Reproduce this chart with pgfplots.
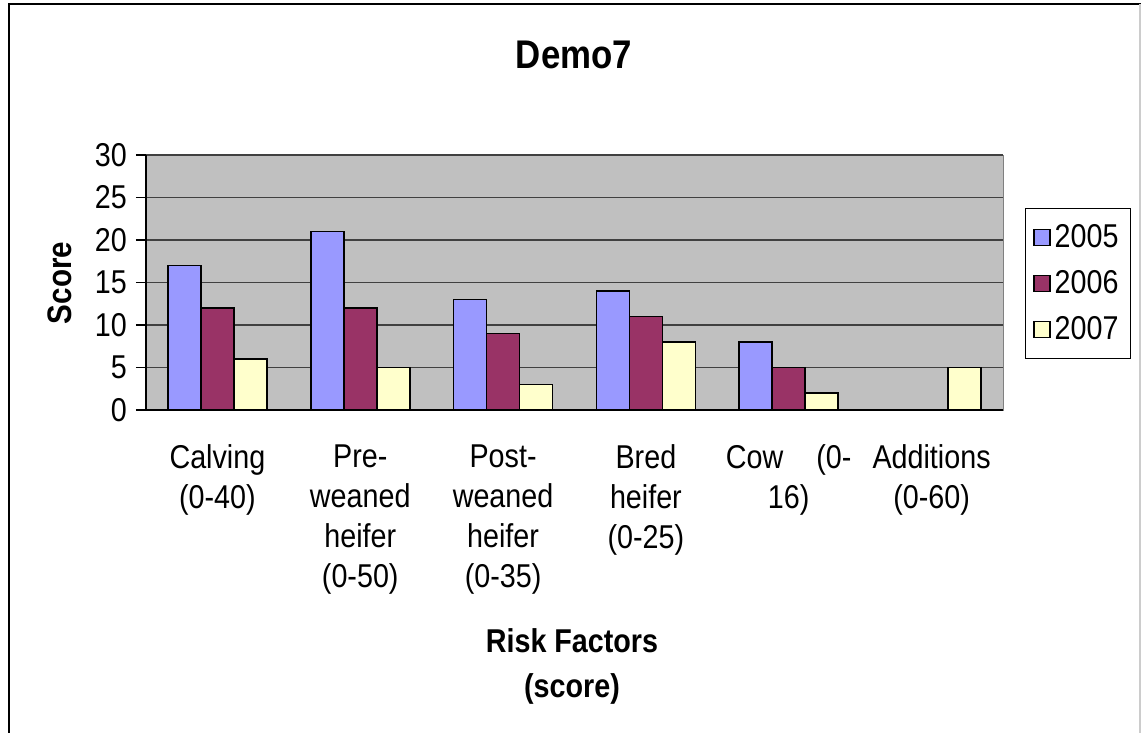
\documentclass[border=0pt]{standalone}
\usepackage{pgfplots}
\pgfplotsset{compat=1.18}
\usepackage{fontspec}
\setmainfont[FakeStretch=0.87]{Liberation Sans}
\definecolor{c5}{HTML}{9999FF}
\definecolor{c6}{HTML}{993366}
\definecolor{c7}{HTML}{FFFFCC}
\definecolor{bg}{HTML}{C0C0C0}
\begin{document}
\begin{tikzpicture}
% page bounds (1 px = 0.5 pt; origin = lower-left of plot area)
\path[use as bounding box] (-73pt,-161.5pt) rectangle (497.5pt,205pt);
\draw[black, line width=1pt] (-68.5pt,-161.5pt) -- (-68.5pt,203pt) -- (497.5pt,203pt);
\draw[gray!40, line width=0.6pt] (497pt,203pt) -- (497pt,-161.5pt);
\begin{axis}[
  at={(0pt,0pt)}, anchor=south west,
  scale only axis, width=428.5pt, height=127.5pt,
  xmin=-0.5, xmax=5.5, ymin=0, ymax=30,
  ybar=0pt, bar width=16.5pt,
  axis background/.style={fill=bg, draw=gray},
  axis x line*=bottom, axis y line*=left,
  axis line style={black, line width=0.8pt, -},
  ytick={0,5,...,30},
  ymajorgrids, major grid style={black!75, line width=0.6pt},
  tick align=outside, major tick length=5pt,
  tick style={black, line width=0.6pt},
  /pgf/number format/assume math mode=true,
  yticklabel style={font=\fontsize{16.5}{19}\selectfont, xshift=-1pt},
  xtick={0,1,2,3,4,5},
  xticklabels={{Calving\\(0-40)},{Pre-\\weaned\\heifer\\(0-50)},{Post-\\weaned\\heifer\\(0-35)},{Bred\\heifer\\(0-25)},{Cow\quad(0-\\16)},{Additions\\(0-60)}},
  xticklabel style={align=center, font=\fontsize{16.5}{20}\selectfont, yshift=-9pt},
  x tick style={draw=none},
  extra x ticks={-0.5,0.5,1.5,2.5,3.5,4.5,5.5},
  extra x tick labels={},
  extra x tick style={grid=none, tick style={draw=black, line width=0.6pt}},
  legend style={at={(1.0257,0.792)}, anchor=north west, draw=black, fill=white,
    font=\fontsize{16.5}{19}\selectfont, row sep=6pt, inner xsep=4pt, inner ysep=6pt,
    legend cell align=left},
  legend image code/.code={\draw[#1, draw=black, line width=0.6pt] (0pt,-4pt) rectangle (8pt,4pt);},
]
\addplot[fill=c5, draw=black, line width=0.9pt] coordinates {(0,17) (1,21) (2,13) (3,14) (4,8)};
\addplot[fill=c6, draw=black, line width=0.9pt] coordinates {(0,12) (1,12) (2,9) (3,11) (4,5)};
\addplot[fill=c7, draw=black, line width=0.9pt] coordinates {(0,6) (1,5) (2,3) (3,8) (4,2) (5,5)};
\legend{2005,2006,2007}
\end{axis}
\node[font=\bfseries\fontsize{20}{22}\selectfont] at (214pt,177.5pt) {Demo7};
\node[font=\bfseries\fontsize{17}{19}\selectfont, rotate=90] at (-43pt,63.5pt) {Score};
\node[font=\bfseries\fontsize{16.5}{22.5}\selectfont, align=center] at (213pt,-128pt) {Risk Factors\\(score)};
\end{tikzpicture}
\end{document}
